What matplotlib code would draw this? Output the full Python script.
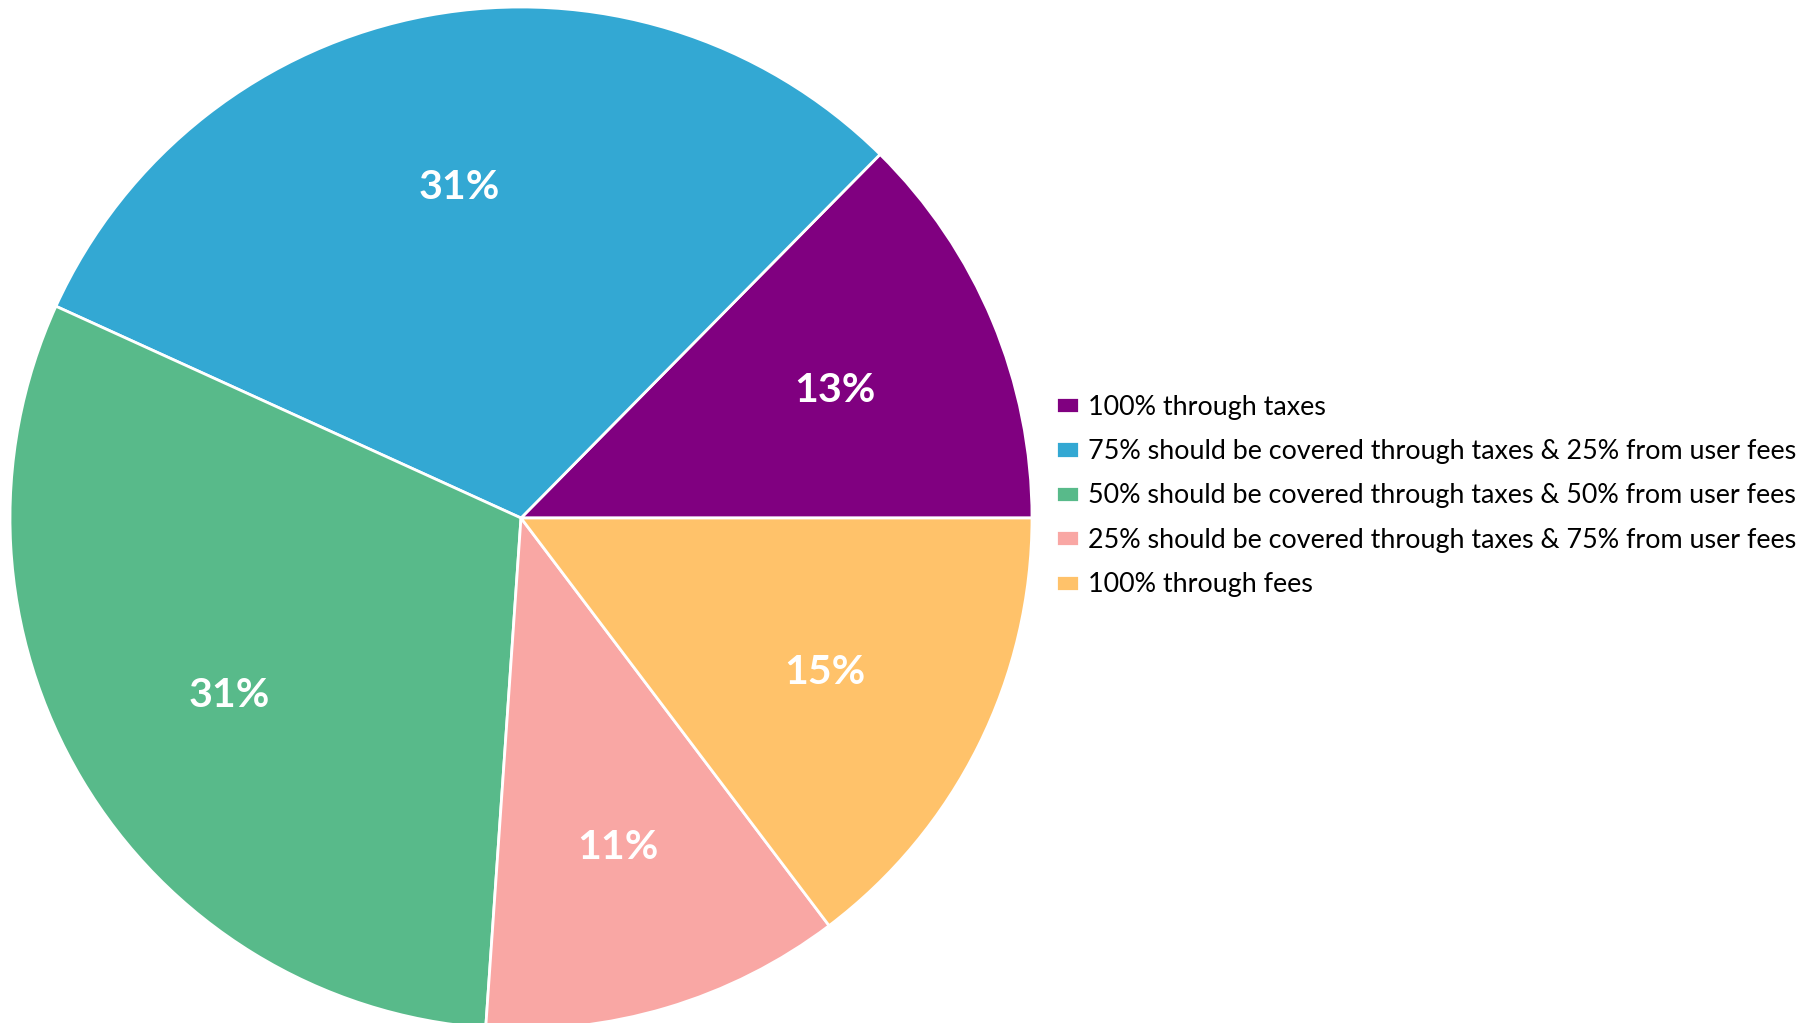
import matplotlib
matplotlib.use('Agg')
import matplotlib.pyplot as plt

# share of responses, counter-clockwise from 3 o'clock
labels = [
    '100% through taxes',
    '75% should be covered through taxes & 25% from user fees',
    '50% should be covered through taxes & 50% from user fees',
    '25% should be covered through taxes & 75% from user fees',
    '100% through fees',
]
shares = [12.6, 30.6, 30.7, 11.4, 14.7]
colors = ['#800080', '#33A8D3', '#58BA8A', '#F9A7A4', '#FFC26A']

W, H = 1816, 1023
fig = plt.figure(figsize=(W / 100, H / 100), dpi=100)
fig.patch.set_facecolor('white')

# pie centre ~ (521, 518) px, radius ~ 511 px
cx, cy, r = 521, 518, 511
ax = fig.add_axes([(cx - r) / W, (H - cy - r) / H, 2 * r / W, 2 * r / H])

wedges, texts, autotexts = ax.pie(
    shares, colors=colors, startangle=0, counterclock=True,
    autopct='%.0f%%', pctdistance=0.665, radius=1,
    wedgeprops=dict(edgecolor='white', linewidth=2),
    textprops=dict(color='white', fontsize=29.5, fontweight='bold', family='Lato'),
)
# excel puts the labels a touch lower
for t in autotexts:
    x, y = t.get_position()
    t.set_position((x, y - 0.007))

ax.set_xlim(-1, 1)
ax.set_ylim(-1, 1)
ax.set_aspect('equal')
ax.axis('off')

leg = fig.legend(
    wedges, labels, loc='center left',
    bbox_to_anchor=(1056 / W, 1 - 496 / H),
    frameon=False, prop=dict(family='Lato', size=19.4),
    handlelength=0.87, handleheight=0.55, handletextpad=0.3,
    labelspacing=0.72, borderaxespad=0, borderpad=0,
)

fig.savefig('out.png', dpi=100, facecolor='white')
